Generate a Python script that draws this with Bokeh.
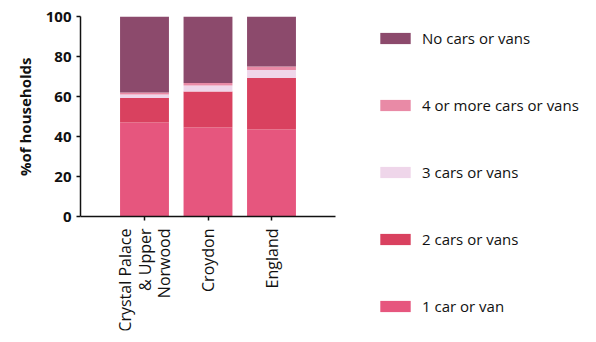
import math
from bokeh.plotting import figure
from bokeh.models import Range1d, FixedTicker, Legend, LegendItem, ColumnDataSource, Title
from bokeh.embed import file_html
from bokeh.resources import INLINE

areas = ["Crystal Palace\n& Upper\nNorwood", "Croydon", "England"]
one_car = [47.0, 44.5, 43.5]
two_cars = [12.3, 18.0, 25.8]
three_cars = [1.7, 3.0, 4.0]
four_plus = [1.0, 1.2, 1.7]
no_cars = [38.0, 33.3, 25.0]
y_ticks = [0, 20, 40, 60, 80, 100]

series = ["1 car or van", "2 cars or vans", "3 cars or vans", "4 or more cars or vans", "No cars or vans"]
values = [one_car, two_cars, three_cars, four_plus, no_cars]
colors = ["#e6567e", "#d9415f", "#efd6ea", "#e98aa6", "#8c4a6c"]

xs = list(range(len(areas)))
W, H = 588, 334
PX = 63.5
X0 = -(144 - 80) / PX

p = figure(width=W, height=H, output_backend="svg", toolbar_location=None,
           x_range=Range1d(X0, X0 + (W - 80) / PX), y_range=Range1d(-(H - 4 - 216) / 2, 100),
           min_border_left=80, min_border_right=0, min_border_top=16, min_border_bottom=4)
p.outline_line_color = None
p.xgrid.visible = False
p.ygrid.visible = False

bottoms = [0.0] * len(areas)
renderers = []
for name, vals, col in zip(series, values, colors):
    tops = [b + v for b, v in zip(bottoms, vals)]
    src = ColumnDataSource(dict(x=xs, bottom=bottoms, top=tops))
    r = p.vbar(x="x", bottom="bottom", top="top", width=0.77, source=src,
               fill_color=col, line_color=None)
    renderers.append((name, r))
    bottoms = tops

for ax in (p.xaxis, p.yaxis):
    ax.axis_line_color = "#111111"
    ax.axis_line_width = 1.5
    ax.major_tick_line_color = "#111111"
    ax.major_tick_line_width = 1.5
    ax.major_tick_in = 0
    ax.major_tick_out = 4
    ax.minor_tick_line_color = None
    ax.major_label_text_font = "Open Sans"
    ax.major_label_text_color = "#111111"

p.yaxis.ticker = FixedTicker(ticks=y_ticks)
p.yaxis.bounds = (0, 100)
p.yaxis.major_label_text_font_size = "15px"
p.yaxis.major_label_text_font_style = "bold"
p.yaxis.major_label_standoff = 5

ylab = Title(text="%of households", align="right", offset=41,
             text_font="Open Sans", text_font_size="15px", text_font_style="bold",
             text_color="#111111", standoff=16)
p.add_layout(ylab, "left")

p.xaxis.ticker = FixedTicker(ticks=xs)
p.xaxis.fixed_location = 0
p.xaxis.bounds = (X0, X0 + (335 - 80) / PX)
p.xaxis.major_label_overrides = {i: a for i, a in enumerate(areas)}
p.xaxis.major_label_orientation = math.pi / 2
p.xaxis.major_label_text_font_size = "16px"
p.xaxis.major_label_text_line_height = 0.87
p.xaxis.major_label_standoff = 8

items = [LegendItem(label=n, renderers=[r]) for n, r in reversed(renderers)]
legend = Legend(items=items, location=(376 - 80, H - 4 - 316), orientation="vertical",
                glyph_width=38, glyph_height=14, label_height=20, spacing=47,
                padding=11, margin=0, label_standoff=8,
                label_text_font="Open Sans", label_text_font_size="15px",
                label_text_color="#111111", border_line_color=None,
                background_fill_alpha=0)
p.add_layout(legend)

open("out.html", "w").write(file_html(p, INLINE))
